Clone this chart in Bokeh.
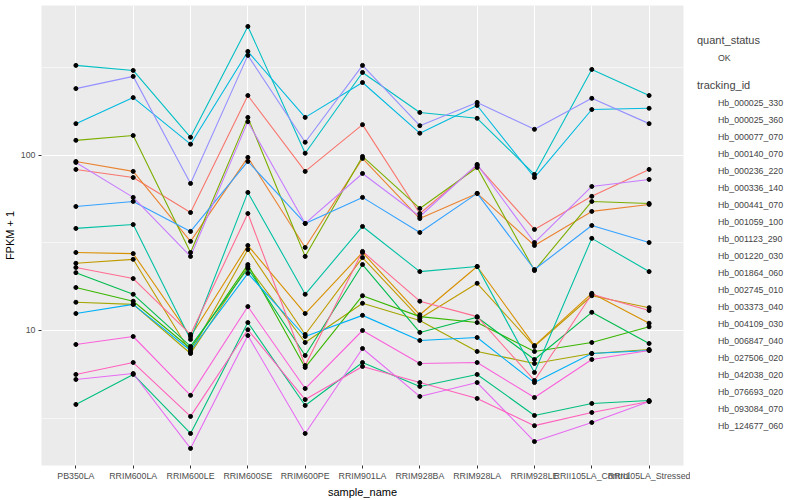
from bokeh.plotting import figure
from bokeh.layouts import row
from bokeh.models import Range1d, FixedTicker, Legend, LegendItem, NumeralTickFormatter
from bokeh.embed import file_html
from bokeh.resources import INLINE

samples = ["PB350LA", "RRIM600LA", "RRIM600LE", "RRIM600SE", "RRIM600PE", "RRIM901LA",
           "RRIM928BA", "RRIM928LA", "RRIM928LE", "RRII105LA_Control", "RRII105LA_Stressed"]

tracking_ids = ["Hb_000025_330", "Hb_000025_360", "Hb_000077_070", "Hb_000140_070", "Hb_000236_220",
                "Hb_000336_140", "Hb_000441_070", "Hb_001059_100", "Hb_001123_290", "Hb_001220_030",
                "Hb_001864_060", "Hb_002745_010", "Hb_003373_040", "Hb_004109_030", "Hb_006847_040",
                "Hb_027506_020", "Hb_042038_020", "Hb_076693_020", "Hb_093084_070", "Hb_124677_060"]

colors = ["#F8766D", "#EA8331", "#D89000", "#C09B00", "#A3A500", "#7CAE00", "#39B600", "#00BB4E",
          "#00BF7D", "#00C1A3", "#00BFC4", "#00BAE0", "#00B0F6", "#35A2FF", "#9590FF", "#C77CFF",
          "#E76BF3", "#FA62DB", "#FF62BC", "#FF6C91"]

# FPKM + 1 values, one list per tracking id (order follows samples)
hb_000025_330 = [83.2, 74.8, 47.2, 220, 81.1, 150, 46.6, 87.7, 37.8, 58.4, 83.2]
hb_000025_360 = [92.4, 81.1, 32.3, 97.5, 29.8, 96.2, 43.6, 60.7, 30.6, 47.9, 52.5]
hb_000077_070 = [27.9, 27.5, 9.24, 30.6, 12.5, 27.9, 12.3, 23.2, 8.2, 16.3, 11.0]
hb_000140_070 = [24.2, 25.5, 7.49, 29.0, 9.49, 26.1, 11.7, 18.6, 8.11, 15.8, 13.5]
hb_000236_220 = [14.5, 14.1, 7.39, 23.2, 8.54, 14.3, 11.4, 7.59, 6.48, 7.39, 7.79]
hb_000336_140 = [122, 130, 27.9, 165, 26.5, 98.7, 49.8, 85.4, 22.0, 54.6, 53.2]
hb_000441_070 = [17.6, 14.7, 7.89, 23.8, 6.15, 15.8, 12.0, 11.1, 7.59, 8.54, 10.5]
hb_001059_100 = [21.4, 16.1, 8.11, 22.6, 7.20, 23.8, 9.75, 11.9, 6.83, 12.7, 8.43]
hb_001123_290 = [3.78, 5.61, 2.58, 11.1, 3.73, 6.56, 4.79, 5.61, 3.27, 3.83, 3.98]
hb_001220_030 = [38.3, 40.3, 8.89, 61.5, 16.1, 39.3, 21.7, 23.2, 5.76, 33.6, 21.7]
hb_001864_060 = [327, 306, 127, 546, 103, 298, 176, 163, 77.9, 310, 220]
hb_002745_010 = [152, 214, 116, 393, 165, 261, 134, 193, 74.8, 183, 186]
hb_003373_040 = [12.5, 14.1, 7.69, 21.2, 9.24, 12.2, 8.77, 9.12, 5.04, 7.39, 7.69]
hb_004109_030 = [51.1, 54.6, 36.8, 92.4, 40.9, 57.6, 36.3, 60.7, 22.3, 39.8, 31.8]
hb_006847_040 = [241, 283, 69.2, 373, 119, 327, 148, 201, 141, 212, 152]
hb_027506_020 = [91.2, 57.6, 26.5, 156, 40.9, 78.9, 44.8, 88.9, 31.8, 66.5, 72.9]
hb_042038_020 = [5.25, 5.68, 2.12, 9.36, 2.58, 7.89, 4.20, 5.04, 2.32, 2.98, 3.93]
hb_076693_020 = [8.32, 9.24, 4.26, 13.7, 4.66, 10.0, 6.48, 6.56, 4.14, 6.83, 7.69]
hb_093084_070 = [5.61, 6.56, 3.23, 10.1, 4.03, 6.23, 5.04, 4.09, 2.86, 3.40, 3.93]
hb_124677_060 = [22.9, 19.8, 9.49, 46.6, 6.31, 28.3, 14.7, 12.0, 5.18, 16.1, 13.0]

series = [hb_000025_330, hb_000025_360, hb_000077_070, hb_000140_070, hb_000236_220,
          hb_000336_140, hb_000441_070, hb_001059_100, hb_001123_290, hb_001220_030,
          hb_001864_060, hb_002745_010, hb_003373_040, hb_004109_030, hb_006847_040,
          hb_027506_020, hb_042038_020, hb_076693_020, hb_093084_070, hb_124677_060]

x_pos = list(range(len(samples)))
FONT = "Liberation Sans"

# ---- main panel ----
p = figure(width=690, height=500, x_range=Range1d(-0.6, 10.6), y_range=Range1d(1.693, 719.0),
           y_axis_type="log", output_backend="svg", toolbar_location=None,
           min_border_left=40, min_border_right=7, min_border_top=5, min_border_bottom=35)
p.background_fill_color = "#EBEBEB"
p.border_fill_color = "white"
p.outline_line_color = None

p.xaxis.ticker = FixedTicker(ticks=x_pos)
p.xaxis.major_label_overrides = {i: s for i, s in enumerate(samples)}
p.yaxis.ticker = FixedTicker(ticks=[10, 100], minor_ticks=[3.1623, 31.623, 316.23])
p.yaxis.formatter = NumeralTickFormatter(format="0")

p.xgrid.grid_line_color = "white"
p.xgrid.grid_line_width = 1.1
p.ygrid.grid_line_color = "white"
p.ygrid.grid_line_width = 1.1
p.ygrid.minor_grid_line_color = "white"
p.ygrid.minor_grid_line_width = 0.55

p.xaxis.axis_label = "sample_name"
p.yaxis.axis_label = "FPKM + 1"
for ax in (p.xaxis[0], p.yaxis[0]):
    ax.axis_line_color = None
    ax.major_tick_line_color = "#333333"
    ax.major_tick_in = 0
    ax.major_tick_out = 3
    ax.minor_tick_line_color = None
    ax.major_label_text_color = "#4D4D4D"
    ax.major_label_text_font = FONT
    ax.major_label_text_font_size = "8.8px"
    ax.major_label_standoff = 2
    ax.axis_label_text_font = FONT
    ax.axis_label_text_font_size = "11px"
    ax.axis_label_text_font_style = "normal"
    ax.axis_label_text_color = "black"
    ax.axis_label_standoff = 2

for vals, c in zip(series, colors):
    p.line(x_pos, vals, line_color=c, line_width=1.1)

px, py = [], []
for vals in series:
    px.extend(x_pos)
    py.extend(vals)
p.scatter(px, py, size=4, color="black")

# ---- legend area ----
lg = figure(width=110, height=500, x_range=Range1d(0, 1), y_range=Range1d(0, 1),
            output_backend="svg", toolbar_location=None, min_border=0,
            x_axis_location=None, y_axis_location=None)
lg.grid.visible = False
lg.outline_line_color = None
lg.background_fill_color = "white"

key_lines = [lg.line([], [], line_color=c, line_width=1.1) for c in colors]
key_pt = lg.scatter([], [], size=4, color="black")

def style(leg):
    leg.border_line_color = None
    leg.background_fill_alpha = 0
    leg.padding = 0
    leg.margin = 0
    leg.spacing = 0
    leg.glyph_width = 17
    leg.glyph_height = 17
    leg.label_height = 17
    leg.label_standoff = 4
    leg.label_text_font = FONT
    leg.label_text_font_size = "8.8px"
    leg.title_text_font = FONT
    leg.title_text_font_size = "11px"
    leg.title_text_font_style = "normal"
    leg.title_standoff = 3

leg_q = Legend(items=[LegendItem(label="OK", renderers=[key_pt])], title="quant_status",
               location=(7, 399))
leg_t = Legend(items=[LegendItem(label=t, renderers=[r]) for t, r in zip(tracking_ids, key_lines)],
               title="tracking_id", location=(7, 31))
style(leg_q)
style(leg_t)
lg.add_layout(leg_q)
lg.add_layout(leg_t)

layout = row(p, lg)
open("out.html", "w").write(file_html(layout, INLINE))
